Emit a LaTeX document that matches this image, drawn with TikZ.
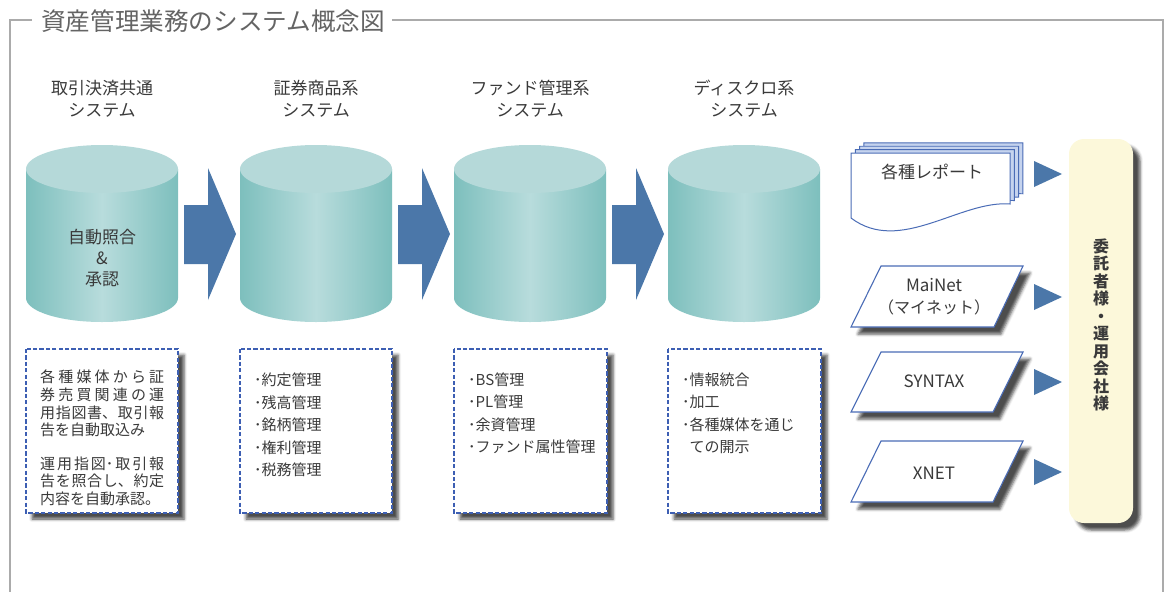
\documentclass[tikz,border=0pt]{standalone}
\usepackage{fontspec}
\setmainfont{Noto Sans CJK JP}
\usetikzlibrary{shadows.blur}
\definecolor{txt}{HTML}{3A3A3A}
\definecolor{ttl}{HTML}{646464}
\definecolor{frm}{HTML}{ABABAB}
\definecolor{cylE}{HTML}{7DBFBD}
\definecolor{cylM}{HTML}{B8DCDC}
\definecolor{cylT}{HTML}{B5D9D9}
\definecolor{arr}{HTML}{4B77A9}
\definecolor{dashc}{HTML}{3D5FB3}
\definecolor{parac}{HTML}{4A6CB6}
\definecolor{backc}{HTML}{C5D3EE}
\definecolor{cream}{HTML}{FCF8DA}
\begin{document}
\begin{tikzpicture}[x=1pt,y=-1pt,
  lbl/.style={font=\fontsize{17}{22}\selectfont, text=txt, align=center, inner sep=0pt},
  bx/.style={font=\fontsize{15}{22.5}\selectfont, text=txt, align=left, inner sep=0pt, anchor=west},
  bxline/.style={font=\fontsize{15}{18}\selectfont, text=txt, inner sep=0pt, anchor=west},
  dbox/.style={draw=dashc, line width=1.4pt, dash pattern=on 4.2pt off 2.2pt, fill=white,
    blur shadow={shadow xshift=6pt, shadow yshift=-6pt, shadow blur radius=3pt, shadow opacity=70}},
  para/.style={draw=parac, line width=1.1pt, fill=white,
    blur shadow={shadow xshift=7pt, shadow yshift=-7pt, shadow blur radius=3pt, shadow opacity=70}},
  tri/.style={fill=arr},
  blockarrow/.style={fill=arr}
]
\useasboundingbox (0,0) rectangle (1166,592);
% frame
\node[anchor=west, inner sep=0pt, font=\fontsize{24.6}{28}\selectfont, text=ttl] (title) at (41,21) {資産管理業務のシステム概念図};
\draw[frm, line width=1.5pt] (32,20) -- (10,20) -- (10,592);
\draw[frm, line width=1.5pt] (392,20) -- (1163,20) -- (1163,592);

% system labels
\node[lbl] (l1) at (102,99) {取引決済共通\\システム};
\node[lbl] (l2) at (316,99) {証券商品系\\システム};
\node[lbl] (l3) at (530,99) {ファンド管理系\\システム};
\node[lbl] (l4) at (744,99) {ディスクロ系\\システム};

% cylinders
\foreach \cx in {102,316,530,744} {
  \shade[left color=cylE, right color=cylE, middle color=cylM]
    (\cx-76,169) -- (\cx-76,298) arc[start angle=180, end angle=0, x radius=76, y radius=24] -- (\cx+76,169) -- cycle;
  \fill[cylT] (\cx,169) ellipse[x radius=76, y radius=24];
}
\node[lbl, font=\fontsize{17}{21}\selectfont] (c1) at (102,258) {自動照合\\\&\\承認};

% block arrows
\foreach \ax in {184,398,612} {
  \fill[blockarrow] (\ax,205) -- (\ax+24,205) -- (\ax+24,168) -- (\ax+52,234) -- (\ax+24,300) -- (\ax+24,264) -- (\ax,264) -- cycle;
}

% dashed boxes
\draw[dbox] (26,349) rectangle (178,513);
\draw[dbox] (240,349) rectangle (392,513);
\draw[dbox] (454,349) rectangle (607,513);
\draw[dbox] (668,349) rectangle (821,513);

% box 1 text
\node[bxline] (t11) at (40,377) {\makebox[124pt][s]{各\hfill 種\hfill 媒\hfill 体\hfill か\hfill ら\hfill 証}};
\node[bxline] (t12) at (40,394.5) {\makebox[124pt][s]{券\hfill 売\hfill 買\hfill 関\hfill 連\hfill の\hfill 運}};
\node[bxline] (t13) at (40,412.5) {\makebox[124pt][s]{用\hfill 指\hfill 図\hfill 書、\hfill 取\hfill 引\hfill 報}};
\node[bxline] (t14) at (40,430) {告を自動取込み};
\node[bxline] (t15) at (40,463.5) {\makebox[124pt][s]{運\hfill 用\hfill 指\hfill 図･\hfill 取\hfill 引\hfill 報}};
\node[bxline] (t16) at (40,481) {\makebox[124pt][s]{告\hfill を\hfill 照\hfill 合\hfill し、\hfill 約\hfill 定}};
\node[bxline] (t17) at (40,499) {内容を自動承認。};

% box 2-4 text
\node[bx] (t2) at (254,425) {･約定管理\\･残高管理\\･銘柄管理\\･権利管理\\･税務管理};
\node[bx] (t3) at (468,413.5) {･BS管理\\･PL管理\\･余資管理\\･ファンド属性管理};
\node[bx] (t4) at (682,413.5) {･情報統合\\･加工\\･各種媒体を通じ\\\phantom{･}ての開示};

% report document stack
\foreach \i in {3,2,1} {
  \filldraw[fill=backc, draw=parac, line width=0.9pt, shift={(4.3*\i,-3.4*\i)}]
    (851,153) -- (1010,153) -- (1010,204) .. controls (960,200) and (900,255) .. (851,218) -- cycle;
}
\filldraw[fill=white, draw=parac, line width=1pt]
  (851,153) -- (1010,153) -- (1010,204) .. controls (960,200) and (900,255) .. (851,218) -- cycle;
\node[lbl] (rep) at (932,172) {各種レポート};

% parallelograms
\draw[para] (881,266) -- (1023,266) -- (994,327) -- (851,327) -- cycle;
\node[lbl] (mai1) at (934,285) {MaiNet};
\node[lbl, font=\fontsize{16}{20}\selectfont] (mai2) at (934,307) {（マイネット）};
\draw[para] (881,352) -- (1023,352) -- (993,412) -- (851,412) -- cycle;
\node[lbl] (syn) at (934,381) {SYNTAX};
\draw[para] (881,441) -- (1023,441) -- (993,502) -- (851,502) -- cycle;
\node[lbl] (xnet) at (934,473) {XNET};

% triangles
\foreach \ty in {174,297,382,472} {
  \fill[tri] (1034,\ty-13) -- (1062,\ty) -- (1034,\ty+13) -- cycle;
}

% client box
\fill[cream, rounded corners=15pt,
  blur shadow={shadow xshift=7pt, shadow yshift=-7pt, shadow blur radius=3pt, shadow opacity=70}]
  (1069,139) rectangle (1133,523);
\node[font=\fontsize{16}{17.5}\selectfont\bfseries, text=txt, align=center, inner sep=0pt] (client) at (1101,325)
  {委\\託\\者\\様\\・\\運\\用\\会\\社\\様};
\end{tikzpicture}
\end{document}
